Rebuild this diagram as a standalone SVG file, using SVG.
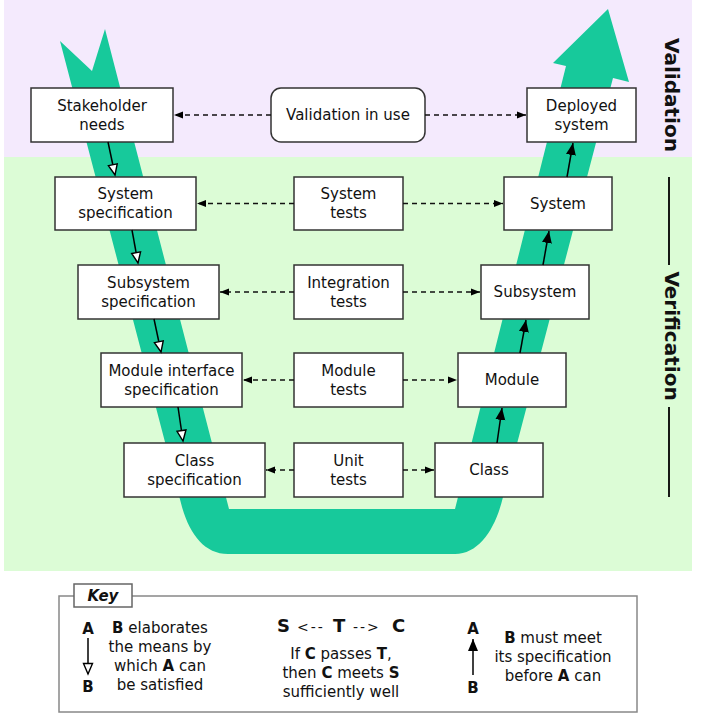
<svg xmlns="http://www.w3.org/2000/svg" width="712" height="726" viewBox="0 0 712 726">
<style>
text{font-family:"DejaVu Sans","Verdana",sans-serif;font-size:15px;fill:#111;text-anchor:middle}
.b{font-weight:bold}
.side{font-size:20px;font-weight:bold}
.node{fill:#fff;stroke:#333;stroke-width:1.5}
.dash{stroke:#111;stroke-width:1.3;stroke-dasharray:5 4;fill:none;marker-end:url(#small)}
.down{stroke:#000;stroke-width:1.5;fill:none;marker-end:url(#hollow)}
.up{stroke:#000;stroke-width:1.5;fill:none;marker-end:url(#solid)}
</style>
<defs>
<marker id="hollow" markerUnits="userSpaceOnUse" markerWidth="14" markerHeight="12" refX="12" refY="6" orient="auto"><path d="M1.5,1.5 L12,6 L1.5,10.5 Z" fill="#fff" stroke="#000" stroke-width="1.4"/></marker>
<marker id="solid" markerUnits="userSpaceOnUse" markerWidth="14" markerHeight="12" refX="12" refY="6" orient="auto"><path d="M0,1 L12,6 L0,11 Z" fill="#000"/></marker>
<marker id="small" markerUnits="userSpaceOnUse" markerWidth="10" markerHeight="10" refX="9" refY="5" orient="auto"><path d="M0,1.5 L9,5 L0,8.5 Z" fill="#000"/></marker>
</defs>
<rect x="4" y="0" width="688" height="157" fill="#F4EAFD"/>
<rect x="4" y="157" width="688" height="414" fill="#DCFCD6"/>
<path id="vband" d="M60,41 L92,71 L105,29 L229,509 L455,509 L566,66 L553,63 L608,9 L629,82 L613,78 L503,497 C496,527 480,554 455,554 L228,554 C205,554 190,535 182,507 Z" fill="#17C99B"/>
<g id="side-labels">
<text class="side" transform="translate(665,95) rotate(90)">Validation</text>
<text class="side" transform="translate(665,336) rotate(90)">Verification</text>
<line x1="669" y1="177" x2="669" y2="265" stroke="#000" stroke-width="1.8"/>
<line x1="669" y1="407" x2="669" y2="497" stroke="#000" stroke-width="1.8"/>
</g>
<g id="n-stakeholder"><rect class="node" x="31" y="88" width="142" height="54"/><text x="102" y="110.5">Stakeholder</text><text x="102" y="129.5">needs</text></g>
<g id="n-validation"><rect class="node" x="271" y="88" width="154" height="54" rx="10"/><text x="348" y="120">Validation in use</text></g>
<g id="n-deployed"><rect class="node" x="527" y="88" width="109" height="54"/><text x="581.5" y="110.5">Deployed</text><text x="581.5" y="129.5">system</text></g>
<g id="n-sysspec"><rect class="node" x="55" y="177" width="141" height="53"/><text x="125.5" y="199">System</text><text x="125.5" y="218">specification</text></g>
<g id="n-systests"><rect class="node" x="294" y="177" width="109" height="53"/><text x="348.5" y="199">System</text><text x="348.5" y="218">tests</text></g>
<g id="n-system"><rect class="node" x="504" y="177" width="108" height="53"/><text x="558" y="208.5">System</text></g>
<g id="n-subspec"><rect class="node" x="78" y="265" width="141" height="54"/><text x="148.5" y="287.5">Subsystem</text><text x="148.5" y="306.5">specification</text></g>
<g id="n-inttests"><rect class="node" x="294" y="265" width="109" height="54"/><text x="348.5" y="287.5">Integration</text><text x="348.5" y="306.5">tests</text></g>
<g id="n-subsystem"><rect class="node" x="481" y="265" width="108" height="54"/><text x="535" y="297">Subsystem</text></g>
<g id="n-modspec"><rect class="node" x="101" y="353" width="141" height="54"/><text x="171.5" y="375.5">Module interface</text><text x="171.5" y="394.5">specification</text></g>
<g id="n-modtests"><rect class="node" x="294" y="353" width="109" height="54"/><text x="348.5" y="375.5">Module</text><text x="348.5" y="394.5">tests</text></g>
<g id="n-module"><rect class="node" x="458" y="353" width="108" height="54"/><text x="512" y="385">Module</text></g>
<g id="n-classspec"><rect class="node" x="124" y="443" width="141" height="54"/><text x="194.5" y="465.5">Class</text><text x="194.5" y="484.5">specification</text></g>
<g id="n-unittests"><rect class="node" x="294" y="443" width="109" height="54"/><text x="348.5" y="465.5">Unit</text><text x="348.5" y="484.5">tests</text></g>
<g id="n-class"><rect class="node" x="435" y="443" width="108" height="54"/><text x="489" y="475">Class</text></g>
<g id="connectors">
<line class="down" x1="108" y1="142" x2="115" y2="175"/>
<line class="down" x1="132" y1="230" x2="138" y2="263"/>
<line class="down" x1="154" y1="319" x2="161" y2="352"/>
<line class="down" x1="178" y1="407" x2="183" y2="441"/>
<line class="up" x1="497" y1="443" x2="502" y2="408"/>
<line class="up" x1="520" y1="353" x2="526" y2="320"/>
<line class="up" x1="543" y1="265" x2="549" y2="231"/>
<line class="up" x1="567" y1="177" x2="573" y2="143"/>
<line class="dash" x1="271" y1="115" x2="174" y2="115"/>
<line class="dash" x1="425" y1="115" x2="526" y2="115"/>
<line class="dash" x1="294" y1="203.5" x2="197" y2="203.5"/>
<line class="dash" x1="403" y1="203.5" x2="503" y2="203.5"/>
<line class="dash" x1="294" y1="292" x2="220" y2="292"/>
<line class="dash" x1="403" y1="292" x2="480" y2="292"/>
<line class="dash" x1="294" y1="380" x2="243" y2="380"/>
<line class="dash" x1="403" y1="380" x2="457" y2="380"/>
<line class="dash" x1="294" y1="470" x2="266" y2="470"/>
<line class="dash" x1="403" y1="470" x2="434" y2="470"/>
</g>
<g id="key">
<rect x="59" y="596" width="578" height="116" fill="#fff" stroke="#888" stroke-width="1.5"/>
<rect x="74" y="584" width="58" height="23" fill="#fff" stroke="#666" stroke-width="1.5"/>
<text x="103" y="601" class="b" font-style="italic">Key</text>
<text x="88" y="634" class="b">A</text>
<line class="down" x1="88" y1="638" x2="88" y2="674"/>
<text x="88" y="692" class="b">B</text>
<text x="160" y="633"><tspan class="b">B</tspan> elaborates</text>
<text x="160" y="652">the means by</text>
<text x="160" y="671">which <tspan class="b">A</tspan> can</text>
<text x="160" y="690">be satisfied</text>
<text y="632" style="font-size:18px;text-anchor:start"><tspan class="b" x="277">S</tspan><tspan x="297" style="font-size:14px;letter-spacing:2px">&lt;--</tspan><tspan class="b" x="333">T</tspan><tspan x="353" style="font-size:14px;letter-spacing:2px">--&gt;</tspan><tspan class="b" x="392">C</tspan></text>
<text x="341" y="659">If <tspan class="b">C</tspan> passes <tspan class="b">T</tspan>,</text>
<text x="341" y="678">then <tspan class="b">C</tspan> meets <tspan class="b">S</tspan></text>
<text x="341" y="697">sufficiently well</text>
<text x="473" y="634" class="b">A</text>
<line class="up" x1="473" y1="675" x2="473" y2="639"/>
<text x="473" y="693" class="b">B</text>
<text x="553" y="643"><tspan class="b">B</tspan> must meet</text>
<text x="553" y="662">its specification</text>
<text x="553" y="681">before <tspan class="b">A</tspan> can</text>
</g>
</svg>
